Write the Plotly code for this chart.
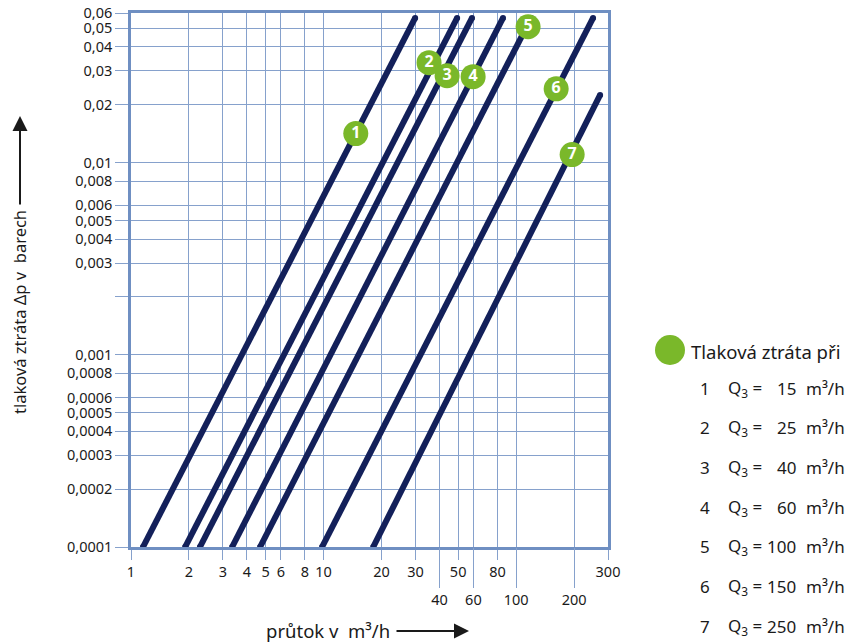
import plotly.graph_objects as go

# ---------------- data ----------------
line_ids = ["1", "2", "3", "4", "5", "6", "7"]
flow_start = [1.154, 1.91, 2.28, 3.35, 4.68, 9.82, 18.1]          # m3/h
dp_start = [0.0001, 0.0001, 0.0001, 0.0001, 0.0001, 0.0001, 0.0001]  # bar
flow_end = [29.9, 49.4, 59.0, 85.5, 119.7, 251.0, 273.0]
dp_end = [0.0566, 0.0566, 0.0566, 0.0566, 0.0566, 0.0566, 0.0225]

badge_flow = [14.7, 35.3, 43.8, 59.8, 115.4, 161.4, 195.4]
badge_dp = [0.01415, 0.0331, 0.0283, 0.0280, 0.0509, 0.0242, 0.0110]

q3_values = ["15", "25", "40", "60", "100", "150", "250"]

y_tickvals = [0.0001, 0.0002, 0.0003, 0.0004, 0.0005, 0.0006, 0.0008, 0.001,
              0.002, 0.003, 0.004, 0.005, 0.006, 0.008, 0.01, 0.02, 0.03,
              0.04, 0.05, 0.06]
y_ticktext = ["0,0001", "0,0002", "0,0003", "0,0004", "0,0005", "0,0006",
              "0,0008", "0,001", "", "0,003", "0,004", "0,005", "0,006",
              "0,008", "0,01", "0,02", "0,03", "0,04", "0,05", "0,06"]
x_tickvals_upper = [1, 2, 3, 4, 5, 6, 8, 10, 20, 30, 50, 80, 300]
x_tickvals_lower = [40, 60, 100, 200]

# ---------------- style ----------------
NAVY = "#13205a"
GREEN = "#7ab82a"
GRID = "#86a1cc"
FRAME = "#6f8fc2"
FONT = "Noto Sans"
TXT = "#1a1a1a"

W, H = 863, 644
ML, MR, MT, MB = 131, 255, 13, 97
PW, PH = W - ML - MR, H - MT - MB


def px(xp):
    return (xp - ML) / PW


def py(yp):
    return (H - MB - yp) / PH


fig = go.Figure()

for i, lid in enumerate(line_ids):
    fig.add_trace(go.Scatter(
        x=[flow_start[i], flow_end[i]], y=[dp_start[i], dp_end[i]],
        mode="lines+markers",
        line=dict(color=NAVY, width=6),
        marker=dict(color=NAVY, size=6),
        hoverinfo="skip", showlegend=False, cliponaxis=False,
    ))

fig.add_trace(go.Scatter(
    x=badge_flow, y=badge_dp, mode="markers+text",
    text=line_ids, textposition="middle center",
    textfont=dict(family=FONT, size=16, color="white", weight="bold"),
    marker=dict(color=GREEN, size=25, line=dict(width=0)),
    hoverinfo="skip", showlegend=False, cliponaxis=False,
))

# dummy trace to activate the second x axis
fig.add_trace(go.Scatter(x=[10], y=[0.001], xaxis="x2", mode="markers",
                         marker=dict(opacity=0), hoverinfo="skip",
                         showlegend=False))

axis_common = dict(type="log", showgrid=True, gridcolor=GRID, gridwidth=1,
                   zeroline=False, ticks="outside", tickcolor=GRID,
                   tickwidth=1, automargin=False,
                   tickfont=dict(family=FONT, size=14.5, color=TXT))

fig.update_layout(
    width=W, height=H,
    margin=dict(l=ML, r=MR, t=MT, b=MB),
    paper_bgcolor="white", plot_bgcolor="white",
    font=dict(family=FONT, color=TXT),
    xaxis=dict(range=[0, 2.4771], tickvals=x_tickvals_upper,
               ticktext=[str(v) for v in x_tickvals_upper], ticklen=10,
               showline=True, mirror=True, linecolor=FRAME, linewidth=2.5,
               **axis_common),
    xaxis2=dict(range=[0, 2.4771], overlaying="x", anchor="y", side="bottom",
                tickvals=x_tickvals_lower,
                ticktext=[str(v) for v in x_tickvals_lower], ticklen=40,
                showline=False, **axis_common),
    yaxis=dict(range=[-4, -1.2218], tickvals=y_tickvals, ticktext=y_ticktext,
               ticklen=13, showline=True, mirror=True, linecolor=FRAME,
               linewidth=2.5, **axis_common),
)


def note(xp, yp, text, size, xanchor="center", **kw):
    return dict(xref="paper", yref="paper", x=px(xp), y=py(yp), text=text,
                xanchor=xanchor, yanchor="middle", showarrow=False,
                font=dict(family=FONT, size=size, color=TXT), **kw)


annotations = []
# axis titles with arrows
annotations.append(note(328, 630, "průtok v  m³/h", 18.5))
annotations.append(dict(xref="paper", yref="paper", x=px(469), y=py(631),
                        ax=-74, ay=0, text="", showarrow=True, arrowhead=2,
                        arrowsize=1.5, arrowwidth=2, arrowcolor=TXT))
annotations.append(note(20, 312, "tlaková ztráta Δp v  barech", 16.5,
                        textangle=-90))
annotations.append(dict(xref="paper", yref="paper", x=px(20), y=py(116),
                        ax=0, ay=90, text="", showarrow=True, arrowhead=2,
                        arrowsize=1.5, arrowwidth=2, arrowcolor=TXT))

# legend block
annotations.append(note(689, 351, "Tlaková ztráta při", 18.5, xanchor="left"))
for i, lid in enumerate(line_ids):
    yp = 388 + 39.7 * i
    annotations.append(note(705, yp, lid, 17))
    annotations.append(note(726, yp, "Q<sub>3</sub> =", 17, xanchor="left"))
    annotations.append(note(798, yp, q3_values[i], 17, xanchor="right"))
    annotations.append(note(804, yp, "m³/h", 17, xanchor="left"))

fig.update_layout(annotations=annotations)
fig.add_shape(type="circle", xref="paper", yref="paper",
              x0=px(655), x1=px(685), y0=py(365), y1=py(335),
              fillcolor=GREEN, line=dict(width=0))

fig.write_html("out.html", config={"displayModeBar": False},
               post_script="document.body.style.margin='0';"
                           "document.body.style.padding='0';")
